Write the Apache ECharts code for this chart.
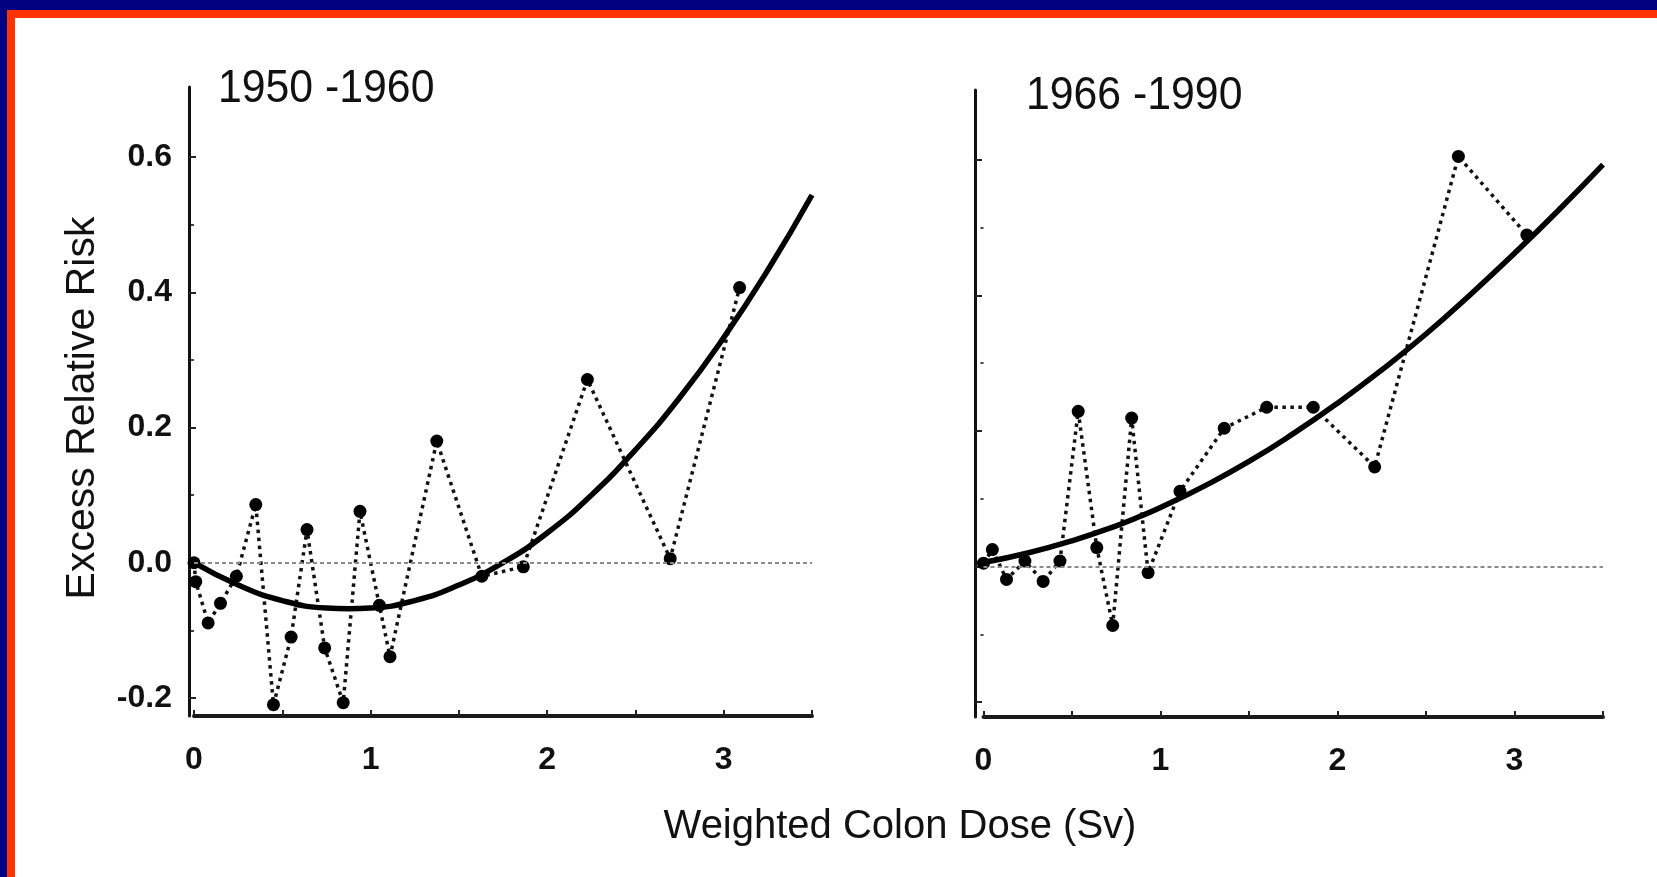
<!DOCTYPE html>
<html>
<head>
<meta charset="utf-8">
<title>Excess Relative Risk vs Weighted Colon Dose</title>
<script src="https://cdn.jsdelivr.net/npm/echarts@6/dist/echarts.min.js"></script>
<style>
  html, body { margin: 0; padding: 0; background: #ffffff; }
  #chart { width: 1657px; height: 877px; }
</style>
</head>
<body>
<div id="chart"></div>
<script>
// Observed excess relative risk by dose group, 1950-1960
const earlyDose = [0.00, 0.01, 0.08, 0.15, 0.24, 0.35, 0.45, 0.55, 0.64, 0.74, 0.845, 0.94, 1.05, 1.11, 1.375, 1.63, 1.865, 2.228, 2.697, 3.09];
const earlyRisk = [0.000, -0.028, -0.089, -0.060, -0.020, 0.086, -0.210, -0.110, 0.049, -0.126, -0.207, 0.076, -0.063, -0.139, 0.180, -0.020, -0.006, 0.271, 0.006, 0.407];

// Observed excess relative risk by dose group, 1966-1990
const lateDose = [0.00, 0.05, 0.13, 0.234, 0.337, 0.432, 0.535, 0.64, 0.73, 0.837, 0.93, 1.11, 1.36, 1.60, 1.863, 2.21, 2.683, 3.07];
const lateRisk = [0.005, 0.025, -0.019, 0.008, -0.022, 0.008, 0.229, 0.028, -0.087, 0.219, -0.009, 0.111, 0.204, 0.235, 0.235, 0.147, 0.605, 0.489];

// Fitted dose-response curves
const fitDose = [0, 0.25, 0.5, 0.75, 0.875, 1.0, 1.25, 1.5, 1.75, 2.0, 2.25, 2.5, 2.75, 3.0, 3.25, 3.5];
const fitEarly = [0, -0.033, -0.056, -0.067, -0.068, -0.067, -0.056, -0.033, 0, 0.044, 0.100, 0.167, 0.244, 0.333, 0.433, 0.544];
const fitLate = [0.006, 0.020, 0.038, 0.060, 0.073, 0.087, 0.119, 0.155, 0.196, 0.241, 0.290, 0.343, 0.401, 0.462, 0.526, 0.593];

// Axis ticks
const doseTicks = [0, 0.5, 1, 1.5, 2, 2.5, 3, 3.5];
const doseLabels = [0, 1, 2, 3];
const riskLabels = [-0.2, 0.0, 0.2, 0.4, 0.6];
const riskMinorTicks = [-0.1, 0.1, 0.3, 0.5];

const panelTitles = ['1950 -1960', '1966 -1990'];
const xTitle = 'Weighted Colon Dose (Sv)';
const yTitle = 'Excess Relative Risk';

const FONT = "'Liberation Sans', Arial, Helvetica, sans-serif";
const pairs = (xs, ys) => xs.map((x, i) => [x, ys[i]]);

function xAxisFor(gridIndex) {
  return {
    type: 'value', gridIndex, min: 0, max: 3.5,
    axisLine: { show: true, onZero: false, lineStyle: { color: '#1a1a1a', width: 4 } },
    axisTick: { show: true, inside: true, length: 6, customValues: doseTicks,
                lineStyle: { color: '#222', width: 2 } },
    axisLabel: { show: true, customValues: doseLabels, margin: 28,
                 fontFamily: FONT, fontSize: 32, fontWeight: 'bold', color: '#111' },
    splitLine: { show: false }
  };
}

function yAxesFor(gridIndex, min, max, offset, withLabels) {
  return [{
    type: 'value', gridIndex, min, max, offset,
    axisLine: { show: true, onZero: false, lineStyle: { color: '#111', width: 3 } },
    axisTick: { show: true, inside: true, length: 7, customValues: riskLabels,
                lineStyle: { color: '#222', width: 2 } },
    axisLabel: { show: withLabels, customValues: riskLabels, margin: 17,
                 formatter: v => Number(v).toFixed(1),
                 fontFamily: FONT, fontSize: 32, fontWeight: 'bold', color: '#111' },
    splitLine: { show: false }
  }, {
    type: 'value', gridIndex, min, max, offset,
    axisLine: { show: false },
    axisTick: { show: true, inside: true, length: 3, customValues: riskMinorTicks,
                lineStyle: { color: '#444', width: 2 } },
    axisLabel: { show: false },
    splitLine: { show: false }
  }];
}

function observedSeries(xi, yi, data) {
  return {
    type: 'line', xAxisIndex: xi, yAxisIndex: yi, data,
    symbol: 'circle', symbolSize: 13, showSymbol: true,
    itemStyle: { color: '#000' },
    lineStyle: { color: '#111', width: 3.5, type: [3.5, 4.5] },
    animation: false, z: 3
  };
}

function fitSeries(xi, yi, data) {
  return {
    type: 'line', xAxisIndex: xi, yAxisIndex: yi, data,
    smooth: true, symbol: 'none',
    lineStyle: { color: '#000', width: 5.5 },
    markLine: {
      silent: true, symbol: ['none', 'none'], animation: false,
      label: { show: false },
      lineStyle: { color: '#8a8a8a', width: 2, type: [4, 3] },
      data: [{ yAxis: 0 }]
    },
    animation: false, z: 4
  };
}

const chart = echarts.init(document.getElementById('chart'));
const y0 = yAxesFor(0, -0.2267, 0.7037, 5, true);
const y1 = yAxesFor(1, -0.222, 0.703, 8.5, false);

chart.setOption({
  backgroundColor: '#ffffff',
  animation: false,
  grid: [
    { left: 194, top: 87, width: 618, height: 629 },
    { left: 983.5, top: 90, width: 619.5, height: 627 }
  ],
  xAxis: [xAxisFor(0), xAxisFor(1)],
  yAxis: [y0[0], y0[1], y1[0], y1[1]],
  series: [
    observedSeries(0, 0, pairs(earlyDose, earlyRisk)),
    fitSeries(0, 0, pairs(fitDose, fitEarly)),
    observedSeries(1, 2, pairs(lateDose, lateRisk)),
    fitSeries(1, 2, pairs(fitDose, fitLate))
  ],
  graphic: [
    // frame bands along the top and left edges
    { type: 'rect', shape: { x: 0, y: 0, width: 1657, height: 10 }, style: { fill: '#000080' }, silent: true },
    { type: 'rect', shape: { x: 0, y: 0, width: 7, height: 877 }, style: { fill: '#000080' }, silent: true },
    { type: 'rect', shape: { x: 7, y: 10, width: 1650, height: 8 }, style: { fill: '#ff3300' }, silent: true },
    { type: 'rect', shape: { x: 7, y: 10, width: 8, height: 867 }, style: { fill: '#ff3300' }, silent: true },
    // panel titles
    { type: 'text', x: 218, y: 89, scaleX: 0.91, silent: true,
      style: { text: panelTitles[0], font: '47px ' + FONT, fill: '#111', align: 'left', verticalAlign: 'middle' } },
    { type: 'text', x: 1026, y: 96, scaleX: 0.91, silent: true,
      style: { text: panelTitles[1], font: '47px ' + FONT, fill: '#111', align: 'left', verticalAlign: 'middle' } },
    // axis names
    { type: 'text', x: 83, y: 408, rotation: Math.PI / 2, silent: true,
      style: { text: yTitle, font: '41px ' + FONT, fill: '#111', align: 'center', verticalAlign: 'middle' } },
    { type: 'text', x: 900, y: 827, silent: true,
      style: { text: xTitle, font: '40px ' + FONT, fill: '#111', align: 'center', verticalAlign: 'middle' } }
  ]
});
</script>
</body>
</html>
